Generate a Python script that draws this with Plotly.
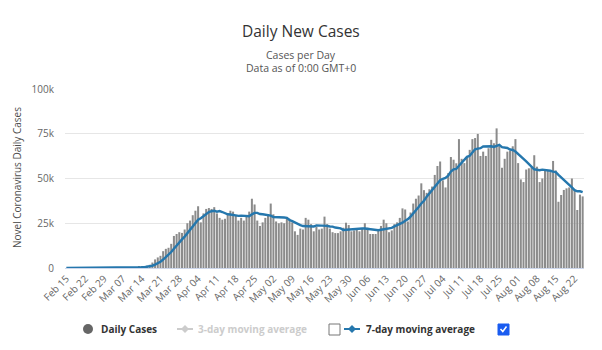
import pandas as pd
import plotly.graph_objects as go

# ---------------- data ----------------
start_date = "2020-02-15"
feb_cases = [0, 0, 0, 0, 0, 0, 1, 0, 0, 0, 3, 0, 0, 1, 5]
mar_cases = [8, 23, 24, 25, 76, 71, 107, 113, 188, 283, 318, 496, 617, 736, 861,
             1300, 1800, 3050, 4800, 5900, 6800, 9400, 10700, 11300, 13500, 17900,
             19000, 20000, 19600, 21500, 25000]
apr_cases = [26500, 29500, 32000, 34500, 25500, 30500, 33000, 33500, 33000, 34000,
             30500, 28000, 27000, 27500, 30000, 32000, 31500, 29500, 26500, 28000,
             26500, 29000, 31500, 38700, 35500, 26500, 23500, 25500, 28000, 30000]
may_cases = [36000, 30000, 26000, 25000, 25500, 25000, 28500, 27500, 25500, 20500,
             18500, 22000, 21500, 28000, 27000, 24500, 20500, 23000, 21500, 22000,
             28700, 24500, 22000, 20000, 19500, 19500, 20500, 22500, 25300, 24000, 20500]
jun_cases = [21000, 21500, 20500, 21800, 25000, 22500, 19000, 19000, 19000, 21500,
             23500, 27000, 25000, 20000, 21000, 24500, 25500, 28000, 33300, 32700,
             26000, 31000, 36000, 38700, 40500, 47300, 43500, 42000, 44000, 45500]
jul_cases = [52000, 57000, 59500, 49000, 45000, 53000, 62000, 60500, 58500, 72000,
             61000, 58600, 62000, 66000, 72000, 72600, 74900, 62600, 65000, 62600,
             66900, 71600, 69700, 78000, 68000, 56000, 61000, 65000, 65500, 68000, 72000]
aug_cases = [58600, 49500, 48000, 55000, 55700, 56300, 63000, 56600, 48000, 50000,
             54500, 54500, 53600, 59800, 54500, 37000, 40800, 43600, 44500, 45000,
             50000, 43600, 32400, 41000, 40000]
last_tick_date = "2020-08-22"

daily_cases = feb_cases + mar_cases + apr_cases + may_cases + jun_cases + jul_cases + aug_cases
dates = pd.date_range(start_date, periods=len(daily_cases), freq="D")
ma7 = pd.Series(daily_cases).rolling(7, min_periods=1).mean()
tick_dates = pd.date_range(start_date, last_tick_date, freq="7D")

# ---------------- geometry helpers (page pixels -> paper) ----------------
W, H = 602, 350
L, R, T, B = 65, 18, 89, 82
PW, PH = W - L - R, H - T - B


def px(x):
    return (x - L) / PW


def py(y):
    return (H - B - y) / PH


FONT = "Open Sans"
LINE_BLUE = "#2577ad"

fig = go.Figure()
fig.add_bar(x=dates, y=daily_cases, marker=dict(color="#8b8b8b", line=dict(width=0)),
            showlegend=False, name="Daily Cases")
fig.add_scatter(x=dates, y=ma7, mode="lines", line=dict(color=LINE_BLUE, width=2.4),
                showlegend=False, name="7-day moving average")

half_day = pd.Timedelta(hours=12)
fig.update_xaxes(range=[dates[0] - half_day, dates[-1] + half_day],
                 tickvals=tick_dates, tickformat="%b %d", tickangle=-45,
                 tickfont=dict(family=FONT, size=10, color="#666666"),
                 showgrid=False, showline=True, linecolor="#ccd6eb", linewidth=1,
                 ticks="", fixedrange=True)
fig.update_yaxes(range=[0, 100000], tickvals=[0, 25000, 50000, 75000, 100000],
                 ticktext=["0", "25k", "50k", "75k", "100k"],
                 tickfont=dict(family=FONT, size=10, color="#666666"),
                 showgrid=True, gridcolor="#e6e6e6", gridwidth=1, zeroline=False,
                 ticks="", ticklabelstandoff=10)

cx = (W / 2 - L) / PW
annotations = [
    dict(text="Daily New Cases", x=cx, y=py(31), xref="paper", yref="paper",
         showarrow=False, font=dict(family=FONT, size=15.5, color="#333333"),
         xanchor="center", yanchor="middle"),
    dict(text="Cases per Day", x=cx, y=py(55), xref="paper", yref="paper",
         showarrow=False, font=dict(family=FONT, size=10.5, color="#555555"),
         xanchor="center", yanchor="middle"),
    dict(text="Data as of 0:00 GMT+0", x=cx, y=py(68), xref="paper", yref="paper",
         showarrow=False, font=dict(family=FONT, size=10.5, color="#555555"),
         xanchor="center", yanchor="middle"),
    dict(text="Novel Coronavirus Daily Cases", x=px(17), y=py(178), xref="paper", yref="paper",
         showarrow=False, textangle=-90, font=dict(family=FONT, size=10, color="#4d4d4d"),
         xanchor="center", yanchor="middle"),
    dict(text="<b>Daily Cases</b>", x=px(99), y=py(329), xref="paper", yref="paper",
         showarrow=False, font=dict(family=FONT, size=10, color="#333333"),
         xanchor="left", yanchor="middle"),
    dict(text="<b>3-day moving average</b>", x=px(196), y=py(329), xref="paper", yref="paper",
         showarrow=False, font=dict(family=FONT, size=10, color="#cccccc"),
         xanchor="left", yanchor="middle"),
    dict(text="<b>7-day moving average</b>", x=px(364), y=py(329), xref="paper", yref="paper",
         showarrow=False, font=dict(family=FONT, size=10, color="#333333"),
         xanchor="left", yanchor="middle"),
]


def diamond(cx_, cy_, r):
    return (f"M {px(cx_ - r)},{py(cy_)} L {px(cx_)},{py(cy_ - r)} L {px(cx_ + r)},{py(cy_)} "
            f"L {px(cx_)},{py(cy_ + r)} Z")


ly = 329
shapes = [
    # Daily cases circle
    dict(type="circle", xref="paper", yref="paper", x0=px(83), x1=px(93), y0=py(ly + 5), y1=py(ly - 5),
         fillcolor="#666666", line=dict(width=0)),
    # 3-day legend symbol
    dict(type="line", xref="paper", yref="paper", x0=px(177), x1=px(193), y0=py(ly), y1=py(ly),
         line=dict(color="#cccccc", width=2)),
    dict(type="path", xref="paper", yref="paper", path=diamond(185, ly, 4),
         fillcolor="#cccccc", line=dict(width=0)),
    # empty checkbox
    dict(type="rect", xref="paper", yref="paper", x0=px(329), x1=px(340), y0=py(ly + 6), y1=py(ly - 5),
         fillcolor="white", line=dict(color="#767676", width=1)),
    # 7-day legend symbol
    dict(type="line", xref="paper", yref="paper", x0=px(344), x1=px(360), y0=py(ly), y1=py(ly),
         line=dict(color=LINE_BLUE, width=2)),
    dict(type="path", xref="paper", yref="paper", path=diamond(352, ly, 4),
         fillcolor=LINE_BLUE, line=dict(width=0)),
    # checked checkbox
    dict(type="rect", xref="paper", yref="paper", x0=px(498), x1=px(509), y0=py(ly + 6), y1=py(ly - 5),
         fillcolor="#1a5cf0", line=dict(color="#1a5cf0", width=1)),
    dict(type="path", xref="paper", yref="paper",
         path=f"M {px(500.5)},{py(ly)} L {px(502.8)},{py(ly + 2.5)} L {px(506.5)},{py(ly - 2.5)}",
         line=dict(color="white", width=1.5)),
]

fig.update_layout(
    width=W, height=H, autosize=False,
    margin=dict(l=L, r=R, t=T, b=B),
    paper_bgcolor="white", plot_bgcolor="white",
    bargap=0.25, showlegend=False,
    annotations=annotations, shapes=shapes,
    font=dict(family=FONT),
)

fig.write_html("out.html")
